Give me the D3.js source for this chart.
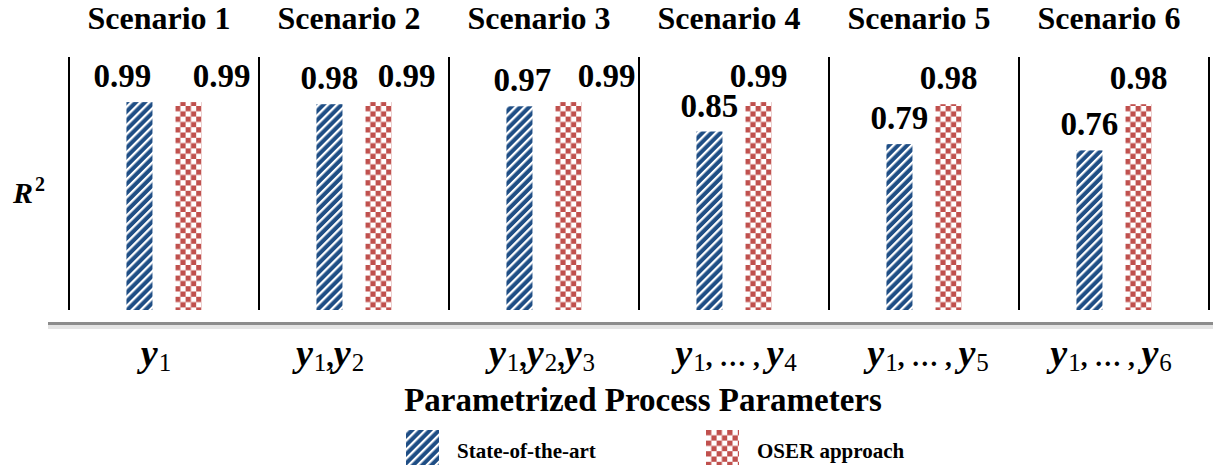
<!DOCTYPE html>
<html>
<head>
<meta charset="utf-8">
<script src="https://cdn.jsdelivr.net/npm/d3@7"></script>
<style>
  html, body { margin: 0; padding: 0; background: #fff; }
  svg { display: block; }
</style>
</head>
<body>
<script>
// ---- data ----
const scenarios = ["Scenario 1", "Scenario 2", "Scenario 3", "Scenario 4", "Scenario 5", "Scenario 6"];
const seriesNames = ["State-of-the-art", "OSER approach"];
const stateOfTheArt = [0.99, 0.98, 0.97, 0.85, 0.79, 0.76];
const oserApproach = [0.99, 0.99, 0.99, 0.99, 0.98, 0.98];
// tick labels: subscripts of y, "…" for an ellipsis
const tickLabels = [["1"], ["1", "2"], ["1", "2", "3"], ["1", "…", "4"], ["1", "…", "5"], ["1", "…", "6"]];
const xTitle = "Parametrized Process Parameters";

// ---- layout (not data) ----
const W = 1213, H = 467;
const labelShift = [[-17, 33], [0, 28], [3, 38], [0, 0], [0, 0], [0, 0]];
const tickShift = [-8, -24, -2, 2, 4, -3];

const svg = d3.select("body").append("svg").attr("width", W).attr("height", H);
const defs = svg.append("defs");

const BLUE = "#1F4E85", RED = "#C0504D";
// hatch pattern
const HP = 6.4;
const hatch = defs.append("pattern").attr("id", "hatch")
  .attr("patternUnits", "userSpaceOnUse").attr("width", HP).attr("height", HP)
  .attr("patternTransform", "rotate(45)");
hatch.append("rect").attr("width", HP).attr("height", HP).attr("fill", BLUE);
hatch.append("rect").attr("width", 2.3).attr("height", HP).attr("fill", "#fff");
// checker pattern
const CP = 5.3;
const chk = defs.append("pattern").attr("id", "checker")
  .attr("patternUnits", "userSpaceOnUse").attr("width", 2 * CP).attr("height", 2 * CP);
chk.append("rect").attr("width", 2 * CP).attr("height", 2 * CP).attr("fill", "#fff");
chk.append("rect").attr("width", CP).attr("height", CP).attr("fill", RED);
chk.append("rect").attr("x", CP).attr("y", CP).attr("width", CP).attr("height", CP).attr("fill", RED);

const fills = ["url(#hatch)", "url(#checker)"];

const x0 = d3.scaleBand().domain(scenarios).range([69, 1209]).padding(0);
const x1 = d3.scaleBand().domain(seriesNames).range([0, x0.bandwidth()])
  .paddingInner(0.47).paddingOuter(1.17);
const y = d3.scaleLinear().domain([0, 1]).range([310, 100]);

const SERIF = "'Liberation Serif', 'Times New Roman', serif";

// panel separators
const seps = d3.range(scenarios.length + 1).map(i => i < scenarios.length ? x0(scenarios[i]) : x0.range()[1]);
svg.append("g").selectAll("line").data(seps).join("line")
  .attr("x1", d => d).attr("x2", d => d)
  .attr("y1", 57).attr("y2", y(0))
  .attr("stroke", "#000").attr("stroke-width", 2);

// scenario titles
svg.append("g").selectAll("text").data(scenarios).join("text")
  .attr("x", d => x0(d) + x0.bandwidth() / 2 - 5)
  .attr("y", 29)
  .attr("text-anchor", "middle")
  .attr("font-family", SERIF).attr("font-weight", "bold").attr("font-size", 32)
  .text(d => d);

// bars
const rows = scenarios.map((s, i) => ({ s, i, vals: [stateOfTheArt[i], oserApproach[i]] }));
const g = svg.append("g").selectAll("g").data(rows).join("g")
  .attr("transform", d => `translate(${x0(d.s)},0)`);
g.selectAll("rect").data(d => d.vals.map((v, k) => ({ v, k, i: d.i }))).join("rect")
  .attr("x", d => x1(seriesNames[d.k]))
  .attr("y", d => y(d.v))
  .attr("width", x1.bandwidth())
  .attr("height", d => y(0) - y(d.v))
  .attr("fill", d => fills[d.k]);
g.selectAll("text").data(d => d.vals.map((v, k) => ({ v, k, i: d.i }))).join("text")
  .attr("x", d => x1(seriesNames[d.k]) + x1.bandwidth() / 2 + labelShift[d.i][d.k])
  .attr("y", d => y(d.v) - 15)
  .attr("text-anchor", "middle")
  .attr("font-family", SERIF).attr("font-weight", "bold").attr("font-size", 33)
  .text(d => d3.format(".2f")(d.v));

// baseline with soft shadow
const base = svg.append("g");
base.append("rect").attr("x", 48).attr("y", 325).attr("width", W - 48).attr("height", 4).attr("fill", "#e4e4e4");
base.append("rect").attr("x", 48).attr("y", 322).attr("width", W - 48).attr("height", 3).attr("fill", "#8c8c8c");

// R^2
const r2 = svg.append("text").attr("x", 13).attr("y", 203)
  .attr("font-family", SERIF).attr("font-weight", "bold").attr("font-size", 30);
r2.append("tspan").attr("font-style", "italic").text("R");
r2.append("tspan").attr("font-size", 20).attr("dy", -12).attr("dx", 2).text("2");

// x tick labels
const tl = svg.append("g").selectAll("text").data(tickLabels).join("text")
  .attr("x", (d, i) => x0(scenarios[i]) + x0.bandwidth() / 2 + tickShift[i])
  .attr("y", 366)
  .attr("text-anchor", "middle")
  .attr("font-family", SERIF).attr("font-weight", "bold").attr("font-size", 38);
tl.each(function (parts) {
  const t = d3.select(this);
  let shifted = 0;
  parts.forEach((p, j) => {
    if (p === "…") {
      t.append("tspan").attr("font-size", 27).attr("dy", -shifted).text(", … , ");
      shifted = 0;
      return;
    }
    if (j > 0 && parts[j - 1] !== "…") {
      t.append("tspan").attr("font-size", 30).attr("dy", -shifted).text(",");
      shifted = 0;
    }
    t.append("tspan").attr("font-style", "italic").attr("dy", -shifted).text("y");
    shifted = 0;
    t.append("tspan").attr("font-size", 25).attr("font-weight", "normal").attr("dx", 1).attr("dy", 5).text(p);
    shifted = 5;
  });
});

// x title
svg.append("text").attr("x", 643).attr("y", 411).attr("text-anchor", "middle")
  .attr("font-family", SERIF).attr("font-weight", "bold").attr("font-size", 33)
  .text(xTitle);

// legend
const legendX = [406, 706];
const lg = svg.append("g").selectAll("g").data(seriesNames).join("g")
  .attr("transform", (d, i) => `translate(${legendX[i]},430)`);
lg.append("rect").attr("width", 33).attr("height", 35).attr("fill", (d, i) => fills[i]);
lg.append("text").attr("x", 51).attr("y", 28)
  .attr("font-family", SERIF).attr("font-weight", "bold").attr("font-size", 21)
  .text(d => d);
</script>
</body>
</html>
